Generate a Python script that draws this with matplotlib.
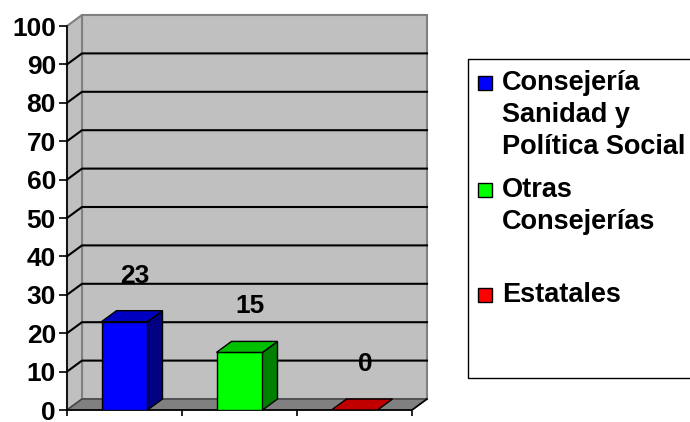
import matplotlib.pyplot as plt
import matplotlib.patches as patches

# data
categories = ['Consejería\nSanidad y\nPolítica Social', 'Otras\nConsejerías', 'Estatales']
values = [23, 15, 0]
front_colors = ['#0000FF', '#00FF00', '#FF0000']
side_colors = ['#000080', '#008000', '#800000']
top_colors = ['#0000C0', '#00C000', '#C00000']
yticks = list(range(0, 101, 10))

plt.rcParams['font.family'] = ['Liberation Sans', 'DejaVu Sans']
plt.rcParams['font.weight'] = 'bold'

W, H = 690, 422
fig = plt.figure(figsize=(W / 100, H / 100), dpi=100)
ax = fig.add_axes([67 / W, 12 / H, 345 / W, 384 / H])
ax.set_xlim(0, 3)
ax.set_ylim(0, 100)
ax.patch.set_visible(False)

# depth of the fake 3d box, in data units
dx = 15 / 115
dy = 11 / 3.84
n = len(categories)

# back wall, side wall, floor
ax.add_patch(patches.Polygon([(dx, dy), (n + dx, dy), (n + dx, 100 + dy), (dx, 100 + dy)],
                             closed=True, facecolor='#C0C0C0', edgecolor='#808080', lw=1.5,
                             clip_on=False, zorder=1))
ax.add_patch(patches.Polygon([(0, 0), (dx, dy), (dx, 100 + dy), (0, 100)],
                             closed=True, facecolor='#C0C0C0', edgecolor='#808080', lw=1.5,
                             clip_on=False, zorder=1))
ax.add_patch(patches.Polygon([(0, 0), (n, 0), (n + dx, dy), (dx, dy)],
                             closed=True, facecolor='#808080', edgecolor='#404040', lw=1,
                             clip_on=False, zorder=1.5))
ax.plot([n, n + dx], [0, dy], color='black', lw=1.2, clip_on=False, zorder=2)

# gridlines on the walls
for t in yticks[1:-1]:
    ax.plot([0, dx, n + dx], [t, t + dy, t + dy], color='black', lw=1.5,
            clip_on=False, zorder=1.6)

# bars
w = 0.4
for i, (v, fc, sc, tc) in enumerate(zip(values, front_colors, side_colors, top_colors)):
    x0 = i + 0.5 - w / 2
    if v > 0:
        ax.add_patch(patches.Rectangle((x0, 0), w, v, facecolor=fc, edgecolor='black',
                                       lw=1, zorder=3))
        ax.add_patch(patches.Polygon([(x0 + w, 0), (x0 + w + dx, dy), (x0 + w + dx, v + dy),
                                      (x0 + w, v)], closed=True, facecolor=sc,
                                     edgecolor='black', lw=1, zorder=3))
    ax.add_patch(patches.Polygon([(x0, v), (x0 + w, v), (x0 + w + dx, v + dy), (x0 + dx, v + dy)],
                                 closed=True, facecolor=tc, edgecolor='black', lw=1, zorder=3))
    ax.text(i + 0.59, v + 12, str(v), ha='center', va='center', fontsize=19,
            fontweight='bold', zorder=4)

# axes
for s in ['top', 'right']:
    ax.spines[s].set_visible(False)
for s in ['left', 'bottom']:
    ax.spines[s].set_linewidth(1.2)
    ax.spines[s].set_zorder(2.5)
ax.set_yticks(yticks)
ax.set_yticklabels([str(t) for t in yticks], fontsize=19, fontweight='bold')
ax.set_xticks(range(n + 1))
ax.set_xticklabels([])
ax.tick_params(axis='y', length=6, width=1.2, pad=2)
ax.tick_params(axis='x', length=4, width=1.2)

# legend drawn by hand
fig.patches.append(patches.Rectangle((468 / W, 1 - 378 / H), 240 / W, 319 / H,
                                     transform=fig.transFigure, facecolor='white',
                                     edgecolor='black', lw=1))
entry_y = [83, 190, 295]
line_h = 32
for lab, fc, ey in zip(categories, front_colors, entry_y):
    fig.patches.append(patches.Rectangle((478 / W, 1 - (ey + 7) / H), 14 / W, 14 / H,
                                         transform=fig.transFigure, facecolor=fc,
                                         edgecolor='black', lw=1))
    for k, line in enumerate(lab.split('\n')):
        fig.text(502 / W, 1 - (ey + k * line_h) / H, line, ha='left', va='center',
                 fontsize=19.5, fontweight='bold')

fig.savefig('out.png', dpi=100)
